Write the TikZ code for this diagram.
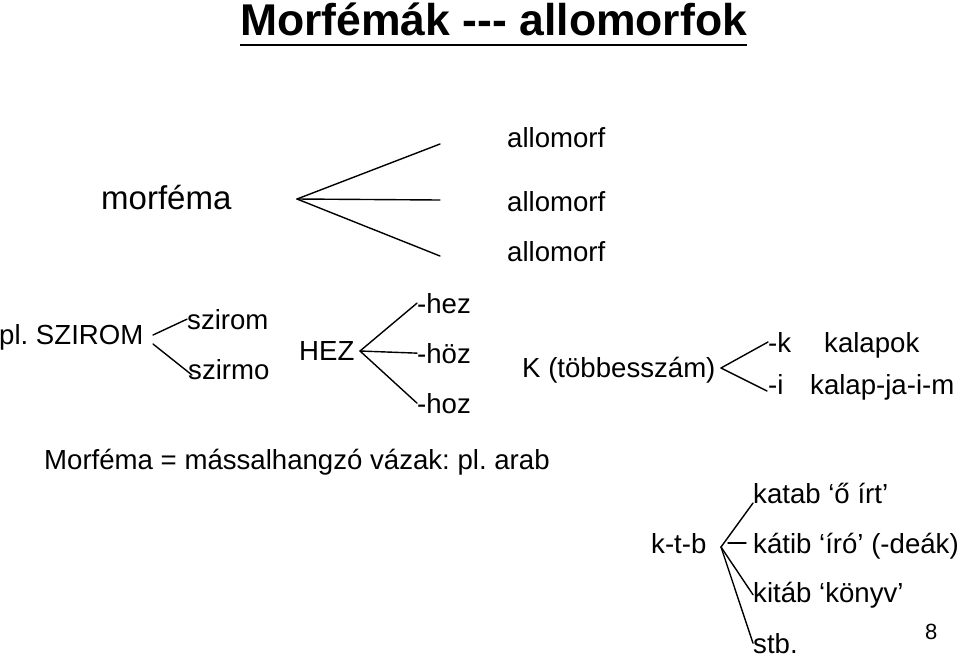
\documentclass[tikz,border=0pt]{standalone}
\usepackage{fontspec}
\setmainfont{Liberation Sans}
\frenchspacing
\usetikzlibrary{positioning,calc}

\begin{document}
\begin{tikzpicture}[x=1pt, y=-1pt,
  lbl/.style={anchor=base west, inner sep=0pt,
    font=\fontsize{27.6}{33}\selectfont},
  ttl/.style={anchor=base west, inner sep=0pt,
    font=\fontsize{44.5}{50}\selectfont\bfseries},
  branch/.style={line width=1.4pt, line cap=round}
]
\useasboundingbox (0,0) rectangle (960,657);

% title
\node[ttl] (title) at (240,35) {Morfémák -\kern0pt-\kern0pt- allomorfok};
\draw[line width=2.6pt] ([yshift=-10pt]title.base west) -- ([yshift=-10pt]title.base east);

% morfema and its allomorphs
\node[lbl, font=\fontsize{33}{40}\selectfont] (morfema) at (101,209) {morféma};
\node[lbl] (allo1) at (507,147) {allomorf};
\node[lbl] (allo2) at (507,211) {allomorf};
\node[lbl] (allo3) at (507,261) {allomorf};

\coordinate (morf-fork) at (297,199);
\coordinate (allo1-end) at (440,144);
\coordinate (allo2-end) at (440,200);
\coordinate (allo3-end) at (440,256);
\draw[branch] (morf-fork) -- (allo1-end);
\draw[branch] (morf-fork) -- (allo2-end);
\draw[branch] (morf-fork) -- (allo3-end);

% szirom
\node[lbl] (szirom-root) at (-1,344) {pl. SZIROM};
\node[lbl] (szirom) at (187,329) {szirom};
\node[lbl] (szirmo) at (188,379) {szirmo};

\coordinate (szirom-up) at (153,335);
\coordinate (szirom-down) at (153,344);
\coordinate (szirmo-end) at (192,375);
\draw[branch] (szirom-up) -- (szirom.west);
\draw[branch] (szirom-down) -- (szirmo-end);

% HEZ
\node[lbl] (hez-root) at (299,360) {HEZ};
\node[lbl] (hez) at (417,313) {-hez};
\node[lbl] (hoz1) at (417,363) {-höz};
\node[lbl] (hoz2) at (417,413) {-hoz};

\coordinate (hez-fork) at (360,351);
\draw[branch] (hez-fork) -- (hez.west);
\draw[branch] (hez-fork) -- (hoz1.west);
\draw[branch] (hez-fork) -- (hoz2.west);

% plural K
\node[lbl] (plural) at (522,377) {K (többesszám)};
\node[lbl] (suffix-k) at (768,352) {-k};
\node[lbl] (kalapok) at (824,352) {kalapok};
\node[lbl] (suffix-i) at (768,394) {-i};
\node[lbl] (kalapjaim) at (810,394) {kalap-ja-i-m};

\coordinate (plural-fork) at (721,368);
\coordinate (suffix-i-end) at (767,391);
\draw[branch] (plural-fork) -- (suffix-k.west);
\draw[branch] (plural-fork) -- (suffix-i-end);

% arab root
\node[lbl] (arabic) at (44,469) {Morféma = mássalhangzó vázak: pl. arab};
\node[lbl] (ktb) at (651,553) {k-t-b};
\node[lbl] (katab) at (753,503) {katab ‘ő írt’};
\node[lbl] (katib) at (753,553) {kátib ‘író’ (-deák)};
\node[lbl] (kitab) at (753,602) {kitáb ‘könyv’};
\node[lbl] (stb) at (753,653) {stb.};

\coordinate (ktb-fork) at (721,547);
\coordinate (ktb-dash-a) at (728,543);
\coordinate (ktb-dash-b) at (746,543);
\draw[branch] (ktb-fork) -- (katab.base west);
\draw[branch] (ktb-dash-a) -- (ktb-dash-b);
\draw[branch] (ktb-fork) -- (kitab.west);
\draw[branch] (ktb-fork) -- (stb.west);

\node[lbl, font=\fontsize{22}{26}\selectfont] (page) at (925,639) {8};
\end{tikzpicture}
\end{document}
